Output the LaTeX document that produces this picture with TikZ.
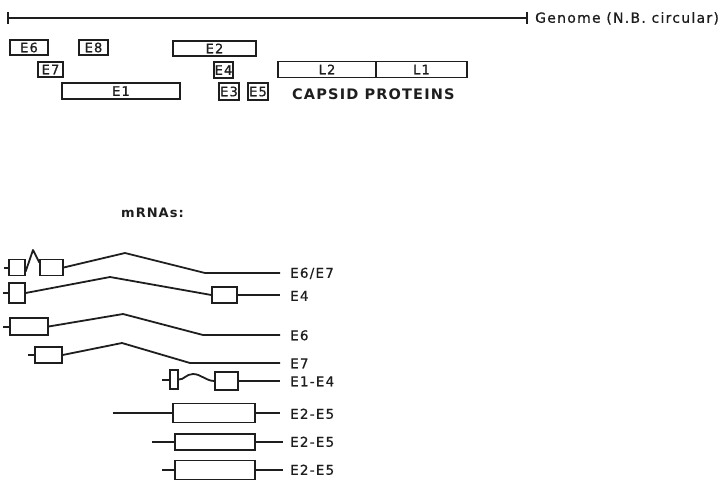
\documentclass[tikz,border=0pt]{standalone}
\usepackage{fontspec}
\setmainfont{DejaVu Sans}[LetterSpace=8]
\newfontfamily\lblfont{DejaVu Sans}[LetterSpace=9,FakeBold=0.8]
\definecolor{ink}{HTML}{1E1E1E}
\begin{document}
\begin{tikzpicture}[x=1pt,y=-1pt,
  every node/.style={text=ink},
  gline/.style={draw=ink,line width=2pt},
  gbox/.style={draw=ink,line width=1.3pt,inner sep=0pt,fill=white,
     text height=9.5pt,text depth=0pt,font=\fontsize{13}{13}\lblfont},
  exon/.style={draw=ink,line width=1.3pt,inner sep=0pt,fill=white},
  mline/.style={draw=ink,line width=1.8pt,line join=round},
  lbl/.style={anchor=west,inner sep=0pt,text height=9.5pt,text depth=0pt,
     font=\fontsize{13.5}{14}\lblfont},
  boldlbl/.style={anchor=west,inner sep=0pt,text height=11pt,text depth=0pt,
     font=\fontsize{14.5}{15}\selectfont\bfseries}]
\useasboundingbox (0,0) rectangle (726,482);

% genome
\coordinate (gl) at (8,18);
\coordinate (gr) at (527,18);
\draw[gline] (gl) -- (gr);
\draw[gline,line width=1.8pt] ([yshift=6pt]gl) -- ([yshift=-6pt]gl);
\draw[gline,line width=1.8pt] ([yshift=6pt]gr) -- ([yshift=-6pt]gr);
\node[lbl,font=\fontsize{14}{14}\lblfont] (genome) at (535,18) {Genome (N.B. circular)};

% gene boxes
\node[gbox,minimum width=38pt,minimum height=15pt] (E6) at (29,47.5) {E6};
\node[gbox,minimum width=29pt,minimum height=15pt] (E8) at (93.5,47.5) {E8};
\node[gbox,minimum width=83pt,minimum height=15pt] (E2) at (214.5,48.5) {E2};
\node[gbox,minimum width=25pt,minimum height=15pt] (E7) at (50.5,69.5) {E7};
\node[gbox,minimum width=19pt,minimum height=16pt] (E4) at (223.5,70) {E4};
\node[gbox,minimum width=98pt,minimum height=16pt] (L2) at (327,69.5) {L2};
\node[gbox,minimum width=91pt,minimum height=16pt] (L1) at (421.5,69.5) {L1};
\node[gbox,minimum width=118pt,minimum height=16pt] (E1) at (121,91) {E1};
\node[gbox,minimum width=20pt,minimum height=17pt] (E3) at (229,91.5) {E3};
\node[gbox,minimum width=20pt,minimum height=17pt] (E5) at (258,91.5) {E5};
\node[boldlbl] (capsid) at (292,94) {CAPSID PROTEINS};

\node[boldlbl,text height=9pt,font=\fontsize{13}{13}\selectfont\bfseries] (mrnas) at (121,213) {mRNAs:};

% row 1: E6/E7
\node[exon,minimum width=16pt,minimum height=16pt] (a1) at (17,267.5) {};
\node[exon,minimum width=23pt,minimum height=16pt] (a2) at (51.5,267.5) {};
\coordinate (a0) at (4,268);
\coordinate (ap) at (33,250);
\coordinate (aq) at (125,253);
\coordinate (ar) at (205,273);
\coordinate (ae) at (280,273);
\draw[mline] (a0) -- (a1.west |- a0);
\draw[mline] ([yshift=-4pt]a1.east) -- (ap) -- ([yshift=5pt]a2.west);
\draw[mline] (a2.east) -- (aq) -- (ar) -- (ae);
\node[lbl] (la) at (290,273) {E6/E7};

% row 2: E4
\node[exon,minimum width=16pt,minimum height=20pt] (b1) at (17,293) {};
\node[exon,minimum width=25pt,minimum height=16pt] (b2) at (224.5,295) {};
\coordinate (b0) at (3,293);
\coordinate (bp) at (110,277);
\coordinate (be) at (280,295);
\draw[mline] (b0) -- (b1.west);
\draw[mline] (b1.east) -- (bp) -- (b2.west);
\draw[mline] (b2.east) -- (be);
\node[lbl] (lb) at (290,296) {E4};

% row 3: E6
\node[exon,minimum width=38pt,minimum height=17pt] (c1) at (29,326.5) {};
\coordinate (c0) at (3,327);
\coordinate (cp) at (123,314);
\coordinate (cq) at (203,335);
\coordinate (ce) at (280,335);
\draw[mline] (c0) -- (c1.west |- c0);
\draw[mline] (c1.east) -- (cp) -- (cq) -- (ce);
\node[lbl] (lc) at (290,335.5) {E6};

% row 4: E7
\node[exon,minimum width=27pt,minimum height=16pt] (d1) at (48.5,355) {};
\coordinate (d0) at (28,355);
\coordinate (dp) at (122,343);
\coordinate (dq) at (190,363);
\coordinate (de) at (280,363);
\draw[mline] (d0) -- (d1.west);
\draw[mline] (d1.east) -- (dp) -- (dq) -- (de);
\node[lbl] (ld) at (290,363.5) {E7};

% row 5: E1-E4
\node[exon,minimum width=8pt,minimum height=19pt] (e1) at (174,379.5) {};
\node[exon,minimum width=23pt,minimum height=18pt] (e2) at (226.5,381) {};
\coordinate (e0) at (162,380);
\coordinate (ee) at (280,381);
\draw[mline] (e0) -- (e1.west |- e0);
\draw[mline] (e1.east) .. controls (184,380) and (186,374) .. (193,374)
   .. controls (201,374) and (206,381) .. (e2.west);
\draw[mline] (e2.east) -- (ee);
\node[lbl] (le) at (290,381.5) {E1-E4};

% rows 6-8: E2-E5
\node[exon,minimum width=82pt,minimum height=19pt] (f1) at (214,413) {};
\coordinate (f0) at (113,413);
\coordinate (fe) at (280,413);
\draw[mline] (f0) -- (f1.west);
\draw[mline] (f1.east) -- (fe);
\node[lbl] (lf) at (290,414) {E2-E5};

\node[exon,minimum width=80pt,minimum height=16pt] (g1) at (215,442) {};
\coordinate (g0) at (152,442);
\coordinate (ge) at (283,442);
\draw[mline] (g0) -- (g1.west);
\draw[mline] (g1.east) -- (ge);
\node[lbl] (lg) at (290,442) {E2-E5};

\node[exon,minimum width=80pt,minimum height=19pt] (h1) at (215,470) {};
\coordinate (h0) at (162,470);
\coordinate (he) at (283,470);
\draw[mline] (h0) -- (h1.west);
\draw[mline] (h1.east) -- (he);
\node[lbl] (lh) at (290,470) {E2-E5};
\end{tikzpicture}
\end{document}
